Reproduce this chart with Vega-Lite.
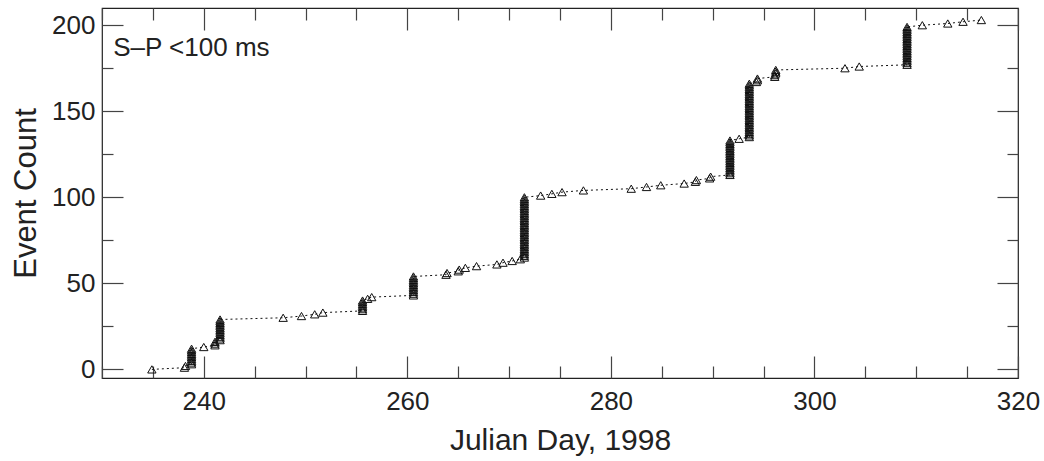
{
  "$schema": "https://vega.github.io/schema/vega-lite/v6.json",
  "width": 916,
  "height": 370,
  "autosize": "none",
  "padding": {"left": 102, "top": 8, "right": 26, "bottom": 83},
  "background": "white",
  "config": {
    "view": {"stroke": "#222", "strokeWidth": 1.2},
    "font": "Liberation Sans",
    "axis": {"grid": false, "domain": false, "labelFont": "Liberation Sans", "titleFont": "Liberation Sans", "labelColor": "#222", "titleColor": "#222", "titleFontWeight": "normal", "tickColor": "#444", "tickWidth": 1.2}
  },
  "data": {"values": [
    {"day": 234.9, "count": 0},
    {"day": 238.1, "count": 1},
    {"day": 238.2, "count": 2},
    {"day": 238.8, "count": 3},
    {"day": 238.8, "count": 4},
    {"day": 238.8, "count": 5},
    {"day": 238.8, "count": 6},
    {"day": 238.8, "count": 7},
    {"day": 238.8, "count": 8},
    {"day": 238.8, "count": 9},
    {"day": 238.8, "count": 10},
    {"day": 238.8, "count": 11},
    {"day": 238.8, "count": 12},
    {"day": 240.0, "count": 13},
    {"day": 241.1, "count": 14},
    {"day": 241.1, "count": 15},
    {"day": 241.1, "count": 16},
    {"day": 241.6, "count": 17},
    {"day": 241.6, "count": 18},
    {"day": 241.6, "count": 19},
    {"day": 241.6, "count": 20},
    {"day": 241.6, "count": 21},
    {"day": 241.6, "count": 22},
    {"day": 241.6, "count": 23},
    {"day": 241.6, "count": 24},
    {"day": 241.6, "count": 25},
    {"day": 241.6, "count": 26},
    {"day": 241.6, "count": 27},
    {"day": 241.6, "count": 28},
    {"day": 241.6, "count": 29},
    {"day": 247.8, "count": 30},
    {"day": 249.6, "count": 31},
    {"day": 250.9, "count": 32},
    {"day": 251.7, "count": 33},
    {"day": 255.6, "count": 34},
    {"day": 255.6, "count": 35},
    {"day": 255.6, "count": 36},
    {"day": 255.6, "count": 37},
    {"day": 255.6, "count": 38},
    {"day": 255.6, "count": 39},
    {"day": 255.6, "count": 40},
    {"day": 256.1, "count": 41},
    {"day": 256.5, "count": 42},
    {"day": 260.6, "count": 43},
    {"day": 260.6, "count": 44},
    {"day": 260.6, "count": 45},
    {"day": 260.6, "count": 46},
    {"day": 260.6, "count": 47},
    {"day": 260.6, "count": 48},
    {"day": 260.6, "count": 49},
    {"day": 260.6, "count": 50},
    {"day": 260.6, "count": 51},
    {"day": 260.6, "count": 52},
    {"day": 260.6, "count": 53},
    {"day": 260.6, "count": 54},
    {"day": 263.8, "count": 55},
    {"day": 263.9, "count": 56},
    {"day": 265.0, "count": 57},
    {"day": 265.1, "count": 58},
    {"day": 265.7, "count": 59},
    {"day": 266.8, "count": 60},
    {"day": 268.8, "count": 61},
    {"day": 269.4, "count": 62},
    {"day": 270.3, "count": 63},
    {"day": 271.1, "count": 64},
    {"day": 271.5, "count": 65},
    {"day": 271.5, "count": 66},
    {"day": 271.5, "count": 67},
    {"day": 271.5, "count": 68},
    {"day": 271.5, "count": 69},
    {"day": 271.5, "count": 70},
    {"day": 271.5, "count": 71},
    {"day": 271.5, "count": 72},
    {"day": 271.5, "count": 73},
    {"day": 271.5, "count": 74},
    {"day": 271.5, "count": 75},
    {"day": 271.5, "count": 76},
    {"day": 271.5, "count": 77},
    {"day": 271.5, "count": 78},
    {"day": 271.5, "count": 79},
    {"day": 271.5, "count": 80},
    {"day": 271.5, "count": 81},
    {"day": 271.5, "count": 82},
    {"day": 271.5, "count": 83},
    {"day": 271.5, "count": 84},
    {"day": 271.5, "count": 85},
    {"day": 271.5, "count": 86},
    {"day": 271.5, "count": 87},
    {"day": 271.5, "count": 88},
    {"day": 271.5, "count": 89},
    {"day": 271.5, "count": 90},
    {"day": 271.5, "count": 91},
    {"day": 271.5, "count": 92},
    {"day": 271.5, "count": 93},
    {"day": 271.5, "count": 94},
    {"day": 271.5, "count": 95},
    {"day": 271.5, "count": 96},
    {"day": 271.5, "count": 97},
    {"day": 271.5, "count": 98},
    {"day": 271.5, "count": 99},
    {"day": 271.5, "count": 100},
    {"day": 273.1, "count": 101},
    {"day": 274.2, "count": 102},
    {"day": 275.2, "count": 103},
    {"day": 277.3, "count": 104},
    {"day": 282.0, "count": 105},
    {"day": 283.5, "count": 106},
    {"day": 284.9, "count": 107},
    {"day": 287.2, "count": 108},
    {"day": 288.3, "count": 109},
    {"day": 288.4, "count": 110},
    {"day": 289.7, "count": 111},
    {"day": 289.8, "count": 112},
    {"day": 291.7, "count": 113},
    {"day": 291.7, "count": 114},
    {"day": 291.7, "count": 115},
    {"day": 291.7, "count": 116},
    {"day": 291.7, "count": 117},
    {"day": 291.7, "count": 118},
    {"day": 291.7, "count": 119},
    {"day": 291.7, "count": 120},
    {"day": 291.7, "count": 121},
    {"day": 291.7, "count": 122},
    {"day": 291.7, "count": 123},
    {"day": 291.7, "count": 124},
    {"day": 291.7, "count": 125},
    {"day": 291.7, "count": 126},
    {"day": 291.7, "count": 127},
    {"day": 291.7, "count": 128},
    {"day": 291.7, "count": 129},
    {"day": 291.7, "count": 130},
    {"day": 291.7, "count": 131},
    {"day": 291.7, "count": 132},
    {"day": 291.7, "count": 133},
    {"day": 292.6, "count": 134},
    {"day": 293.6, "count": 135},
    {"day": 293.6, "count": 136},
    {"day": 293.6, "count": 137},
    {"day": 293.6, "count": 138},
    {"day": 293.6, "count": 139},
    {"day": 293.6, "count": 140},
    {"day": 293.6, "count": 141},
    {"day": 293.6, "count": 142},
    {"day": 293.6, "count": 143},
    {"day": 293.6, "count": 144},
    {"day": 293.6, "count": 145},
    {"day": 293.6, "count": 146},
    {"day": 293.6, "count": 147},
    {"day": 293.6, "count": 148},
    {"day": 293.6, "count": 149},
    {"day": 293.6, "count": 150},
    {"day": 293.6, "count": 151},
    {"day": 293.6, "count": 152},
    {"day": 293.6, "count": 153},
    {"day": 293.6, "count": 154},
    {"day": 293.6, "count": 155},
    {"day": 293.6, "count": 156},
    {"day": 293.6, "count": 157},
    {"day": 293.6, "count": 158},
    {"day": 293.6, "count": 159},
    {"day": 293.6, "count": 160},
    {"day": 293.6, "count": 161},
    {"day": 293.6, "count": 162},
    {"day": 293.6, "count": 163},
    {"day": 293.6, "count": 164},
    {"day": 293.6, "count": 165},
    {"day": 293.6, "count": 166},
    {"day": 294.3, "count": 167},
    {"day": 294.4, "count": 168},
    {"day": 294.4, "count": 169},
    {"day": 296.1, "count": 170},
    {"day": 296.1, "count": 171},
    {"day": 296.2, "count": 172},
    {"day": 296.2, "count": 173},
    {"day": 296.2, "count": 174},
    {"day": 303.0, "count": 175},
    {"day": 304.4, "count": 176},
    {"day": 309.1, "count": 177},
    {"day": 309.1, "count": 178},
    {"day": 309.1, "count": 179},
    {"day": 309.1, "count": 180},
    {"day": 309.1, "count": 181},
    {"day": 309.1, "count": 182},
    {"day": 309.1, "count": 183},
    {"day": 309.1, "count": 184},
    {"day": 309.1, "count": 185},
    {"day": 309.1, "count": 186},
    {"day": 309.1, "count": 187},
    {"day": 309.1, "count": 188},
    {"day": 309.1, "count": 189},
    {"day": 309.1, "count": 190},
    {"day": 309.1, "count": 191},
    {"day": 309.1, "count": 192},
    {"day": 309.1, "count": 193},
    {"day": 309.1, "count": 194},
    {"day": 309.1, "count": 195},
    {"day": 309.1, "count": 196},
    {"day": 309.1, "count": 197},
    {"day": 309.1, "count": 198},
    {"day": 309.1, "count": 199},
    {"day": 310.6, "count": 200},
    {"day": 313.1, "count": 201},
    {"day": 314.6, "count": 202},
    {"day": 316.4, "count": 203}
  ]},
  "layer": [
    {
      "mark": {"type": "line", "color": "#111", "strokeWidth": 1, "strokeDash": [2, 3]},
      "encoding": {
        "x": {
          "field": "day", "type": "quantitative",
          "scale": {"domain": [230, 320], "nice": false, "zero": false},
          "axis": {
            "orient": "bottom",
            "values": [230, 235, 240, 245, 250, 255, 260, 265, 270, 275, 280, 285, 290, 295, 300, 305, 310, 315, 320],
            "labelExpr": "datum.value % 20 === 0 ? datum.label : ''",
            "tickSize": {"condition": {"test": "datum.value % 20 === 0", "value": -22}, "value": -12},
            "labelPadding": 32,
            "labelFontSize": 26,
            "labelFlush": false,
            "labelOverlap": false,
            "title": "Julian Day, 1998",
            "titleFontSize": 30,
            "titlePadding": 1
          }
        },
        "y": {
          "field": "count", "type": "quantitative",
          "scale": {"domain": [-5, 210], "nice": false, "zero": false},
          "axis": {
            "orient": "left",
            "values": [0, 25, 50, 75, 100, 125, 150, 175, 200],
            "labelExpr": "datum.value % 50 === 0 ? datum.label : ''",
            "tickSize": {"condition": {"test": "datum.value % 50 === 0", "value": -21}, "value": -11},
            "labelPadding": 28,
            "labelFontSize": 26,
            "labelFlush": false,
            "labelOverlap": false,
            "title": "Event Count",
            "titleFontSize": 31,
            "titlePadding": 9
          }
        }
      }
    },
    {
      "mark": {"type": "point", "shape": "triangle-up", "filled": false, "stroke": "#111", "strokeWidth": 1, "size": 70, "opacity": 1},
      "encoding": {
        "x": {
          "field": "day", "type": "quantitative",
          "axis": {
            "orient": "top",
            "values": [230, 235, 240, 245, 250, 255, 260, 265, 270, 275, 280, 285, 290, 295, 300, 305, 310, 315, 320],
            "labels": false,
            "tickSize": {"condition": {"test": "datum.value % 20 === 0", "value": -22}, "value": -12},
            "title": null
          }
        },
        "y": {
          "field": "count", "type": "quantitative",
          "axis": {
            "orient": "right",
            "values": [0, 25, 50, 75, 100, 125, 150, 175, 200],
            "labels": false,
            "tickSize": {"condition": {"test": "datum.value % 50 === 0", "value": -21}, "value": -11},
            "title": null
          }
        }
      }
    },
    {
      "data": {"values": [{}]},
      "mark": {"type": "text", "text": "S–P <100 ms", "align": "left", "baseline": "middle", "fontSize": 26, "font": "Liberation Sans", "color": "#222"},
      "encoding": {
        "x": {"datum": 231.1, "type": "quantitative", "axis": null},
        "y": {"datum": 187, "type": "quantitative", "axis": null}
      }
    }
  ],
  "resolve": {"axis": {"x": "independent", "y": "independent"}}
}
